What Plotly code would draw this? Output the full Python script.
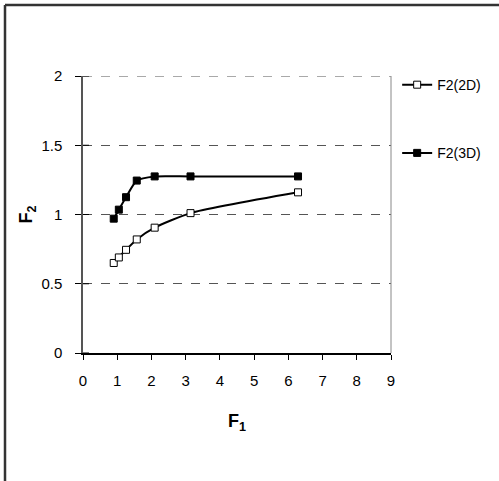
import plotly.graph_objects as go

f1 = [0.898, 1.047, 1.257, 1.571, 2.094, 3.142, 6.283]
f2_2d = [0.65, 0.69, 0.745, 0.82, 0.905, 1.01, 1.16]
f2_3d = [0.97, 1.035, 1.125, 1.245, 1.275, 1.275, 1.275]
names = ["F2(2D)", "F2(3D)"]
x_ticks = list(range(0, 10))
y_ticks = [0, 0.5, 1, 1.5, 2]
y_ticktext = ["0", "0.5", "1", "1.5", "2"]

font = "Liberation Sans, Arial, sans-serif"

fig = go.Figure()
fig.add_trace(go.Scatter(
    x=f1, y=f2_2d, name=names[0], mode="lines+markers",
    line=dict(color="black", width=2, shape="spline", smoothing=0.6),
    marker=dict(symbol="square", size=7, color="white", line=dict(color="black", width=1)),
    legendgroup="a"))
fig.add_trace(go.Scatter(
    x=f1, y=f2_3d, name=names[1], mode="lines+markers",
    line=dict(color="black", width=2, shape="spline", smoothing=0.6),
    marker=dict(symbol="square", size=7, color="black", line=dict(color="black", width=1)),
    legendgroup="b"))

L, R, T, B = 83, 108, 76, 128
pw = 499 - L - R
ph = 481 - T - B

fig.update_layout(
    width=499, height=481,
    margin=dict(l=L, r=R, t=T, b=B),
    paper_bgcolor="white", plot_bgcolor="white",
    font=dict(family=font, size=15, color="black"),
    showlegend=True,
    legend=dict(x=1.02, y=1.025, xanchor="left", yanchor="top",
                traceorder="grouped", tracegroupgap=47, itemwidth=30,
                font=dict(size=14), bgcolor="rgba(0,0,0,0)"),
    xaxis=dict(range=[0, 9], tickvals=x_ticks, showgrid=False, zeroline=False,
               showline=True, linecolor="black", linewidth=1.5,
               ticks="outside", ticklen=5, tickcolor="black", ticklabelstandoff=8,
               title=dict(text="<b>F<sub>1</sub></b>", font=dict(size=18), standoff=27)),
    yaxis=dict(range=[0, 2], tickvals=y_ticks, ticktext=y_ticktext,
               showgrid=True, gridcolor="#555555", griddash="dash", gridwidth=1,
               zeroline=False, showline=True, linecolor="#555555", linewidth=1.5,
               ticks="outside", ticklen=6, tickcolor="black", ticklabelstandoff=10,
               title=dict(text="<b>F<sub>2</sub></b>", font=dict(size=18), standoff=4)),
)

# dashed gridline at the top value and right border of plot area
fig.add_shape(type="line", xref="paper", yref="y", x0=0, x1=1, y0=y_ticks[-1], y1=y_ticks[-1],
              line=dict(color="#555555", width=1, dash="dash"))
fig.add_shape(type="line", xref="paper", yref="paper", x0=1, x1=1, y0=0, y1=1,
              line=dict(color="#888888", width=1))
# y tick marks crossing into the plot (Excel "cross" style)
for v in y_ticks:
    fig.add_shape(type="line", xref="paper", yref="y", x0=0, x1=6 / pw, y0=v, y1=v,
                  line=dict(color="black", width=1))
# outer chart frame (cropped on right/bottom): left and top edges
fx0 = (5 - L) / pw
fy1 = (481 - B - 5) / ph
fig.add_shape(type="line", xref="paper", yref="paper", x0=fx0, x1=fx0, y0=-1.0, y1=fy1,
              line=dict(color="#333333", width=2.5))
fig.add_shape(type="line", xref="paper", yref="paper", x0=fx0, x1=(499 - L) / pw, y0=fy1, y1=fy1,
              line=dict(color="#333333", width=2.5))

fig.write_html("out.html", config={"displayModeBar": False},
               post_script="document.body.style.margin='0';")
